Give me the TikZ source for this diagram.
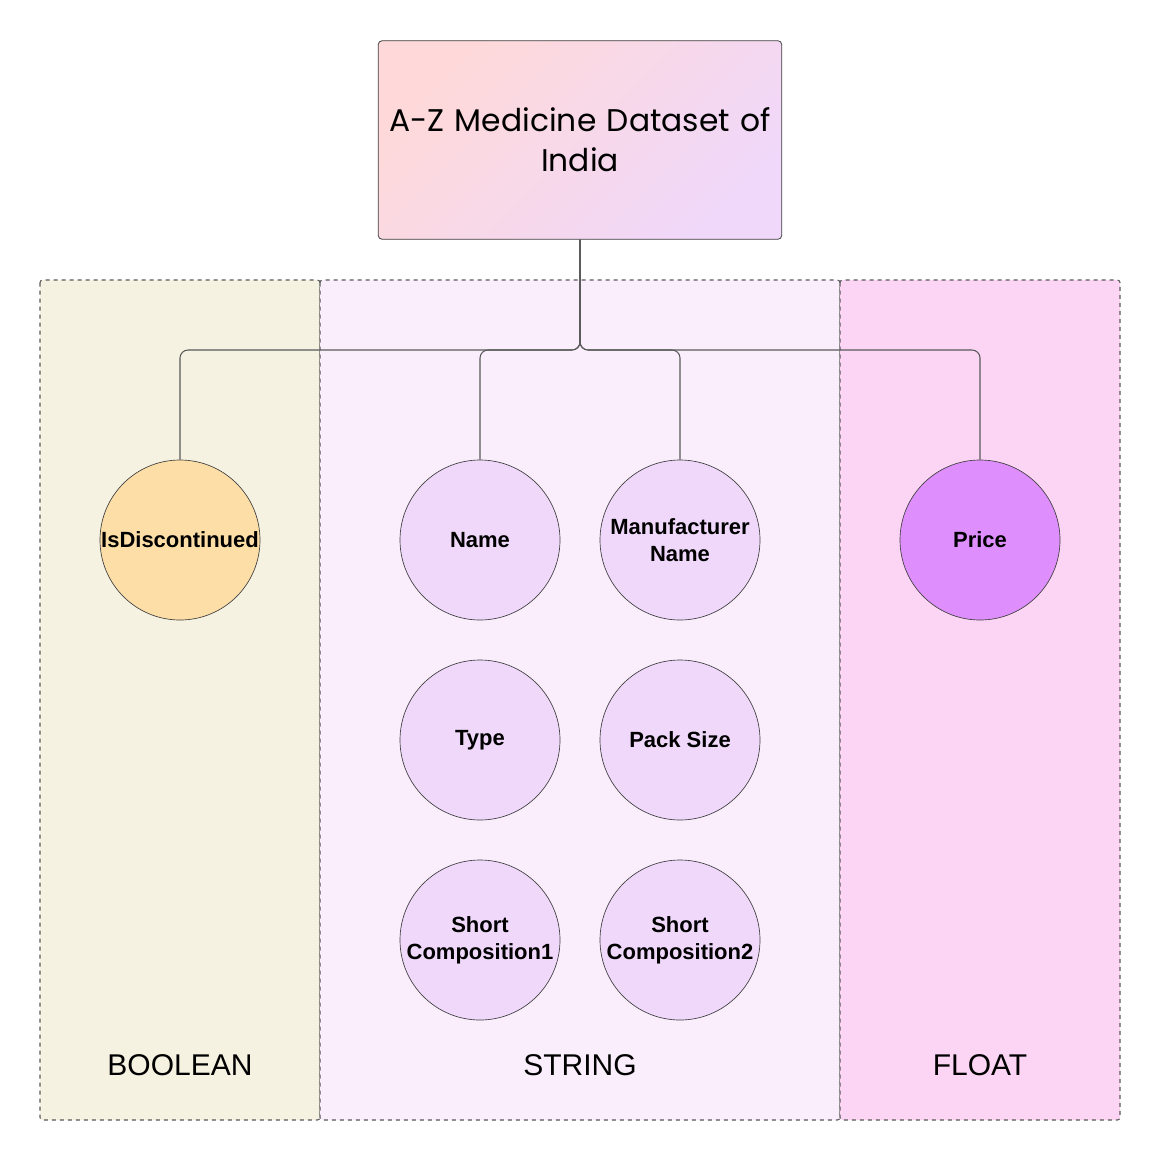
\documentclass[tikz,border=0pt]{standalone}
\usepackage{fontspec}
\setmainfont{Liberation Sans}
\newfontfamily\titlefont{Poppins}
\begin{document}
\begin{tikzpicture}[x=0.75pt,y=-0.75pt,
  lane/.style={draw=black!65, dashed, line width=0.8pt, rounded corners=2pt},
  attr/.style={circle, draw=black!75, line width=0.5pt, minimum size=120pt, inner sep=0pt, align=center, font=\bfseries\fontsize{16.5}{20}\selectfont},
  conn/.style={draw=black!65, line width=0.8pt, rounded corners=6pt},
  lanelabel/.style={font=\fontsize{22.5}{26}\selectfont}]
\useasboundingbox (0,0) rectangle (1160,1160);
\fill[white] (0,0) rectangle (1160,1160);
% lanes
\path[lane, fill={rgb,255:red,246;green,242;blue,225}] (40,280) rectangle (320,1120);
\path[lane, fill={rgb,255:red,250;green,238;blue,252}] (320,280) rectangle (840,1120);
\path[lane, fill={rgb,255:red,253;green,213;blue,244}] (840,280) rectangle (1120,1120);
\node[lanelabel] (lb) at (180,1065) {BOOLEAN};
\node[lanelabel] (ls) at (580,1065) {STRING};
\node[lanelabel] (lf) at (980,1065) {FLOAT};
% top box
\node[draw=black!75, line width=0.6pt, rounded corners=3pt, minimum width=299pt, minimum height=149pt,
  left color={rgb,255:red,255;green,217;blue,217}, middle color={rgb,255:red,242;green,216;blue,246}, right color={rgb,255:red,240;green,216;blue,250}, shading angle=45,
  align=center, text width=296pt, font=\titlefont\fontsize{23.5}{30}\selectfont] (top) at (580,140) {A-Z Medicine Dataset of\\India};
% circles
\node[attr, fill={rgb,255:red,253;green,222;blue,166}] (disc) at (180,540) {IsDiscontinued};
\node[attr, fill={rgb,255:red,240;green,216;blue,250}] (name) at (480,540) {Name};
\node[attr, fill={rgb,255:red,240;green,216;blue,250}] (manu) at (680,540) {Manufacturer\\Name};
\node[attr, fill={rgb,255:red,240;green,216;blue,250}] (type) at (480,740) {Type};
\node[attr, fill={rgb,255:red,240;green,216;blue,250}] (pack) at (680,740) {Pack Size};
\node[attr, fill={rgb,255:red,240;green,216;blue,250}] (sc1) at (480,940) {Short\\Composition1};
\node[attr, fill={rgb,255:red,240;green,216;blue,250}] (sc2) at (680,940) {Short\\Composition2};
\node[attr, fill={rgb,255:red,223;green,143;blue,253}] (price) at (980,540) {Price};
% connectors
\coordinate (j) at (580,350);
\foreach \c in {disc,name,manu,price}{
  \draw[conn] (top.south) -- (j) -| (\c.north);
}
\end{tikzpicture}
\end{document}
